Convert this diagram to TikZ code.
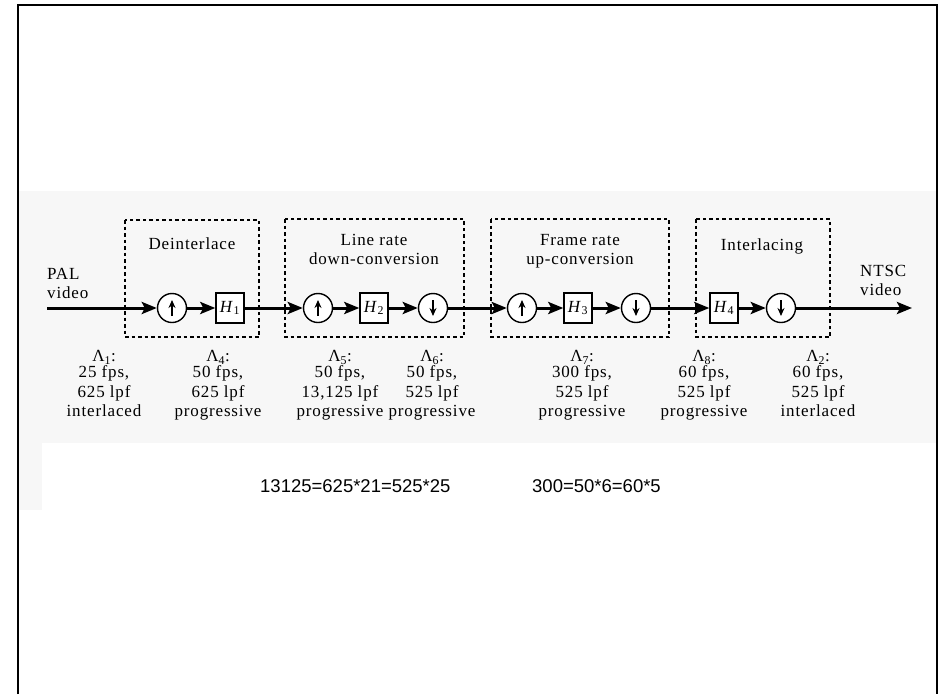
\documentclass[tikz,border=0pt]{standalone}
\usepackage{fontspec}
\setmainfont{Liberation Serif}[LetterSpace=5]
\newfontfamily\arialfont{Liberation Sans}
\usetikzlibrary{arrows.meta, positioning}

\begin{document}
\begin{tikzpicture}[
        x=1pt, y=-1pt,
        every node/.style={font=\fontsize{17}{19.5}\selectfont},
        sig/.style={line width=3pt, -{Stealth[length=15pt, width=12pt, inset=3pt]}},
        stage/.style={line width=1.3pt, dash pattern=on 3.5pt off 3pt},
        filt/.style={draw, line width=1.4pt, fill=white, minimum width=28pt, minimum height=30pt, inner sep=0pt},
        smp/.style={circle, draw, line width=1.4pt, fill=white, minimum size=29pt, inner sep=0pt},
        upsmp/.style={smp, path picture={
            \draw[line width=2pt, -{Stealth[length=8pt, width=7pt]}]
                ([yshift=-8pt]path picture bounding box.center) -- ([yshift=8pt]path picture bounding box.center);}},
        dnsmp/.style={smp, path picture={
            \draw[line width=2pt, -{Stealth[length=8pt, width=7pt]}]
                ([yshift=8pt]path picture bounding box.center) -- ([yshift=-8pt]path picture bounding box.center);}},
        lbl/.style={inner sep=0pt, align=center, anchor=north},
        eqn/.style={inner sep=0pt, anchor=base west, font=\arialfont\fontsize{18.5}{20}\selectfont}
    ]
        % Page and frame
        \useasboundingbox (0,0) rectangle (943,694);
        \fill[white] (0,0) rectangle (943,694);
        \fill[black!3] (18,191) rectangle (936,443);
        \fill[black!3] (18,443) rectangle (42,510);
        \draw[line width=1.2pt] (18,694) |- (937,5) -- (937,694);

        % Stages
        \draw[stage] (125,220) rectangle (259,337);
        \draw[stage] (285,219) rectangle (464,337);
        \draw[stage] (491,219) rectangle (669,337);
        \draw[stage] (696,219) rectangle (830,337);

        \node[lbl] (deint) at (192,237) {Deinterlace};
        \node[lbl] (linerate) at (374,234) {Line rate\\down-conversion};
        \node[lbl] (framerate) at (580,234) {Frame rate\\up-conversion};
        \node[lbl] (intl) at (762,238) {Interlacing};

        % Signal chain
        \coordinate (in) at (47,308);
        \coordinate (out) at (912,308);
        \node[upsmp] (u1) at (172,308) {};
        \node[filt] (h1) at (230,308) {\textit{H}\textsubscript{1}};
        \node[upsmp] (u2) at (318,308) {};
        \node[filt] (h2) at (374,308) {\textit{H}\textsubscript{2}};
        \node[dnsmp] (d2) at (433,308) {};
        \node[upsmp] (u3) at (522,308) {};
        \node[filt] (h3) at (578,308) {\textit{H}\textsubscript{3}};
        \node[dnsmp] (d3) at (636,308) {};
        \node[filt] (h4) at (724,308) {\textit{H}\textsubscript{4}};
        \node[dnsmp] (d4) at (781,308) {};

        \foreach \a/\b in {in/u1, u1/h1, h1/u2, u2/h2, h2/d2, d2/u3, u3/h3, h3/d3, d3/h4, h4/d4, d4/out}
            \draw[sig] (\a) -- (\b);

        \node[lbl, anchor=north west, align=left] (pal) at (47,268) {PAL\\video};
        \node[lbl, anchor=north west, align=left] (ntsc) at (860,265) {NTSC\\video};

        % Lattices
        \node[lbl] (l1) at (104,350) {Λ\textsubscript{1}:\\[-3pt]25 fps,\\625 lpf\\interlaced};
        \node[lbl] (l4) at (218,350) {Λ\textsubscript{4}:\\[-3pt]50 fps,\\625 lpf\\progressive};
        \node[lbl] (l5) at (340,350) {Λ\textsubscript{5}:\\[-3pt]50 fps,\\13,125 lpf\\progressive};
        \node[lbl] (l6) at (432,350) {Λ\textsubscript{6}:\\[-3pt]50 fps,\\525 lpf\\progressive};
        \node[lbl] (l7) at (582,350) {Λ\textsubscript{7}:\\[-3pt]300 fps,\\525 lpf\\progressive};
        \node[lbl] (l8) at (704,350) {Λ\textsubscript{8}:\\[-3pt]60 fps,\\525 lpf\\progressive};
        \node[lbl] (l2) at (818,350) {Λ\textsubscript{2}:\\[-3pt]60 fps,\\525 lpf\\interlaced};

        % Notes
        \node[eqn] (eq1) at (260,492) {13125=625*21=525*25};
        \node[eqn] (eq2) at (532,492) {300=50*6=60*5};
    \end{tikzpicture}
\end{document}
